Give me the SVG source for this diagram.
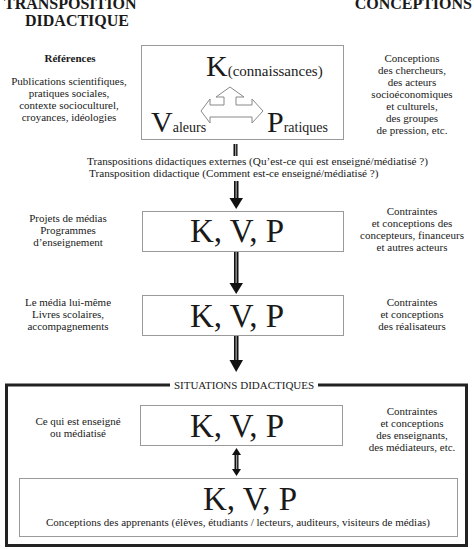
<svg xmlns="http://www.w3.org/2000/svg" width="474" height="549" viewBox="0 0 474 549" font-family="'Liberation Serif', 'DejaVu Serif', serif">
<style>
text{font-family:'Liberation Serif','DejaVu Serif',serif;fill:#1a1a1a}
.t{font-size:16px;font-weight:bold}
.s{font-size:11px;text-anchor:middle}
.sl{font-size:11.2px}
.kvp{font-size:33px;text-anchor:middle}
.big{font-size:30px}
.med{font-size:14px}
.box{fill:#fff;stroke:#9a9a9a;stroke-width:1}
.shaft{fill:#111}
.stripe{fill:#9a9a9a}
.head{fill:#111}
</style>
<rect width="474" height="549" fill="#fff"/>
<text class="t" x="4" y="9">TRANSPOSITION</text>
<text class="t" x="25" y="26">DIDACTIQUE</text>
<text class="t" x="472" y="9" text-anchor="end">CONCEPTIONS</text>

<g id="references">
<text class="s" x="70" y="62" font-weight="bold" font-size="10.5">Références</text>
<text class="s" x="69" y="85">Publications scientifiques,</text>
<text class="s" x="69" y="97">pratiques sociales,</text>
<text class="s" x="69" y="109">contexte socioculturel,</text>
<text class="s" x="69" y="121">croyances, idéologies</text>
</g>
<g id="conceptions1">
<text class="s" x="412" y="62">Conceptions</text>
<text class="s" x="412" y="74">des chercheurs,</text>
<text class="s" x="412" y="86">des acteurs</text>
<text class="s" x="412" y="98">socioéconomiques</text>
<text class="s" x="412" y="110">et culturels,</text>
<text class="s" x="412" y="122">des groupes</text>
<text class="s" x="412" y="134">de pression, etc.</text>
</g>

<g id="box1">
<rect class="box" x="141.5" y="45.5" width="202" height="94"/>
<text x="206" y="76"><tspan class="big">K</tspan><tspan font-size="15">(connaissances)</tspan></text>
<text x="151" y="132"><tspan class="big">V</tspan><tspan class="med">aleurs</tspan></text>
<text x="267" y="132"><tspan class="big">P</tspan><tspan class="med">ratiques</tspan></text>
<path d="M230,87 L244,97 L236,97 L236,105 L252,105 L252,99 L263,111 L252,123 L252,117 L210,117 L210,123 L201,111 L210,99 L210,105 L224,105 L224,97 L216,97 Z" fill="#fff" stroke="#888" stroke-width="1"/>
</g>

<g id="transpositions">
<text class="sl" x="87" y="165">Transpositions didactiques externes (Qu’est-ce qui est enseigné/médiatisé ?)</text>
<text class="sl" x="89" y="177">Transposition didactique (Comment est-ce enseigné/médiatisé ?)</text>
</g>

<g id="box2">
<rect class="box" x="142.5" y="211.5" width="201" height="40"/>
<text class="kvp" x="237" y="242">K, V, P</text>
<text class="s" x="68" y="222">Projets de médias</text>
<text class="s" x="68" y="234">Programmes</text>
<text class="s" x="68" y="246">d’enseignement</text>
<text class="s" x="412" y="215">Contraintes</text>
<text class="s" x="412" y="227">et conceptions des</text>
<text class="s" x="412" y="239">concepteurs, financeurs</text>
<text class="s" x="412" y="251">et autres acteurs</text>
</g>

<g id="box3">
<rect class="box" x="142.5" y="295.5" width="201" height="40"/>
<text class="kvp" x="237" y="327">K, V, P</text>
<text class="s" x="68" y="306">Le média lui-même</text>
<text class="s" x="68" y="318">Livres scolaires,</text>
<text class="s" x="68" y="330">accompagnements</text>
<text class="s" x="412" y="306">Contraintes</text>
<text class="s" x="412" y="318">et conceptions</text>
<text class="s" x="412" y="330">des réalisateurs</text>
</g>

<g id="situations">
<path d="M170,385 L6.5,385 L6.5,545.5 L466.5,545.5 L466.5,385 L318,385" fill="none" stroke="#222" stroke-width="3"/>
<text class="s" x="244" y="389" font-size="11.3">SITUATIONS DIDACTIQUES</text>
</g>

<g id="box4">
<rect class="box" x="140.5" y="405.5" width="202" height="40"/>
<text class="kvp" x="237" y="437">K, V, P</text>
<text class="s" x="78" y="425">Ce qui est enseigné</text>
<text class="s" x="78" y="437">ou médiatisé</text>
<text class="s" x="412" y="415">Contraintes</text>
<text class="s" x="412" y="427">et conceptions</text>
<text class="s" x="412" y="439">des enseignants,</text>
<text class="s" x="412" y="451">des médiateurs, etc.</text>
</g>

<g id="box5">
<rect class="box" x="19.5" y="478.5" width="438" height="58"/>
<text class="kvp" x="250" y="510" font-size="35">K, V, P</text>
<text class="s" x="238" y="526" font-size="11.2">Conceptions des apprenants (élèves, étudiants / lecteurs, auditeurs, visiteurs de médias)</text>
</g>

<g id="connectors">
<rect class="shaft" x="233.5" y="144" width="4" height="12"/>
<rect class="stripe" x="235" y="144" width="1.2" height="12"/>

<rect class="shaft" x="234" y="181" width="4.5" height="19"/>
<rect class="stripe" x="235.5" y="181" width="1.3" height="19"/>
<path class="head" d="M229.5,198 L243,198 L236.2,209 Z"/>

<rect class="shaft" x="234" y="252" width="4.5" height="33"/>
<rect class="stripe" x="235.5" y="252" width="1.3" height="33"/>
<path class="head" d="M229.5,283 L243,283 L236.2,294 Z"/>

<rect class="shaft" x="234" y="336" width="4.5" height="26"/>
<rect class="stripe" x="235.5" y="336" width="1.3" height="26"/>
<path class="head" d="M229.5,360 L243,360 L236.2,372 Z"/>

<rect class="shaft" x="234.5" y="453" width="4" height="18"/>
<rect class="stripe" x="236" y="453" width="1.2" height="18"/>
<path class="head" d="M232,455 L241,455 L236.5,448 Z"/>
<path class="head" d="M232,469 L241,469 L236.5,476 Z"/>
</g>
</svg>
